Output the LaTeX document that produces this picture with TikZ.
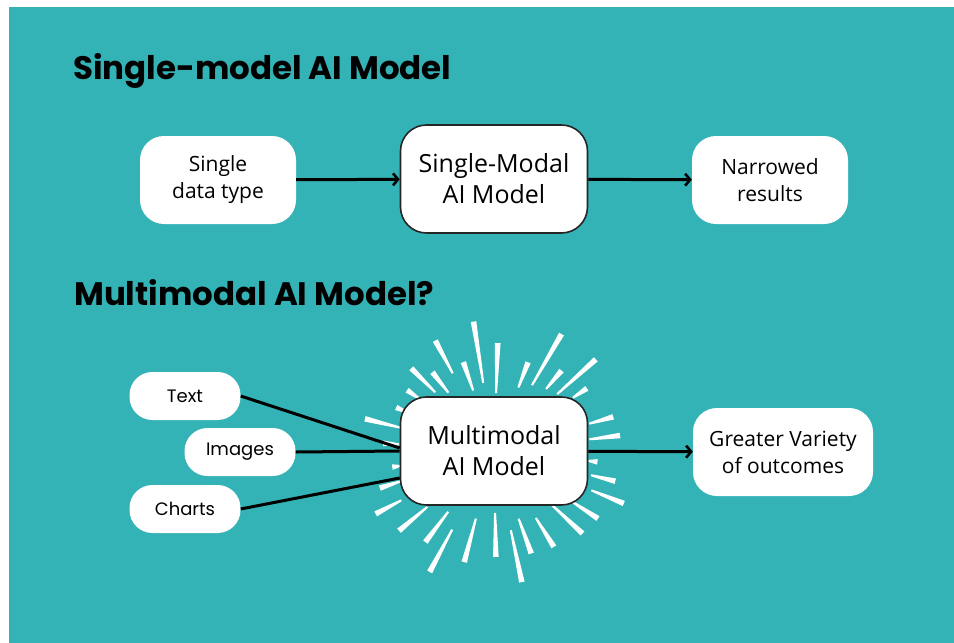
\documentclass[tikz,border=0pt]{standalone}
\usepackage{fontspec}
\setmainfont{Open Sans}
\newfontfamily\headfont{Poppins}
\usetikzlibrary{arrows.meta}
\definecolor{bgteal}{HTML}{34B3B6}

\tikzset{
  heading/.style={font=\headfont\bfseries\fontsize{32.5}{38}\selectfont, inner sep=0pt, anchor=base west},
  softbox/.style={fill=white, rounded corners=24pt, minimum width=156pt, minimum height=88pt,
    align=center, inner sep=2pt, font=\fontsize{21}{27}\selectfont},
  modelbox/.style={fill=white, draw=black!85, line width=1.6pt, rounded corners=26pt,
    minimum width=187pt, minimum height=108pt, align=center, font=\fontsize{25}{31}\selectfont},
  pill/.style={fill=white, rounded corners=23pt, minimum width=111pt, minimum height=48pt,
    inner sep=2pt, font=\headfont\fontsize{18}{22}\selectfont},
  link/.style={line width=3pt, -{Straight Barb[length=5pt,width=12pt,line width=2.6pt]}},
  feed/.style={line width=3pt},
  ray/.style={fill=white}
}

\begin{document}
\begin{tikzpicture}[x=1pt, y=-1pt]
    \useasboundingbox (0,0) rectangle (954,643);
    \fill[white] (0,0) rectangle (954,643);
    \fill[bgteal] (9,7) rectangle (954,643);

    % --- top: single-modal ---
    \node[heading] (title1) at (73,79) {Single-model AI Model};

    \node[softbox] (single) at (218,180) {Single\\data type};
    \node[modelbox] (smodel) at (494,179) {Single-Modal\\AI Model};
    \node[softbox] (narrow) at (770,180) {Narrowed\\results};

    \draw[link] (single) -- (smodel);
    \draw[link] (smodel) -- (narrow);

    % --- bottom: multimodal ---
    \node[heading] (title2) at (74,305) {Multimodal AI Model?};

    % burst of tapered rays behind the model box
    \coordinate (burst) at (494,451);
    \foreach \a/\ri/\ro in {-166/96/133, -176/95/111, 171/95/103, 162/98/120,
        152/105/134, 140/87/124, 127/76/114, 118/89/137, 105/70/115,
        89/62/106, 78/81/134, 70/72/109, 58/79/113, 43/79/121, 33/92/124,
        22/105/140, 14/100/125, 6/95/104, -7/96/127, -16/99/124,
        -34/95/112, -42/85/137, -50/81/105, -60/76/135, -69/68/95,
        -88/58/108, -99/69/131, -109/64/94, -118/88/125, -128/74/100,
        -135/83/117, -145/90/106, -156/94/107}
      \fill[ray, shift={(burst)}, rotate=-\a]
        (\ri,-1) -- (\ro,-2.8) -- (\ro,2.8) -- (\ri,1) -- cycle;

    \node[pill] (text) at (185,396) {Text};
    \node[pill] (images) at (240,452) {Images};
    \node[pill] (charts) at (185,509) {Charts};
    \node[modelbox] (mmodel) at (burst) {Multimodal\\AI Model};
    \node[softbox, minimum width=180pt] (variety) at (783,452) {Greater Variety\\of outcomes};

    \draw[feed] (text.east) -- ([yshift=3pt]mmodel.west);
    \draw[feed] (images.east) -- (mmodel.west);
    \draw[feed] (charts.east) -- ([yshift=-27pt]mmodel.west);
    \draw[link] (mmodel) -- (variety);
\end{tikzpicture}
\end{document}
